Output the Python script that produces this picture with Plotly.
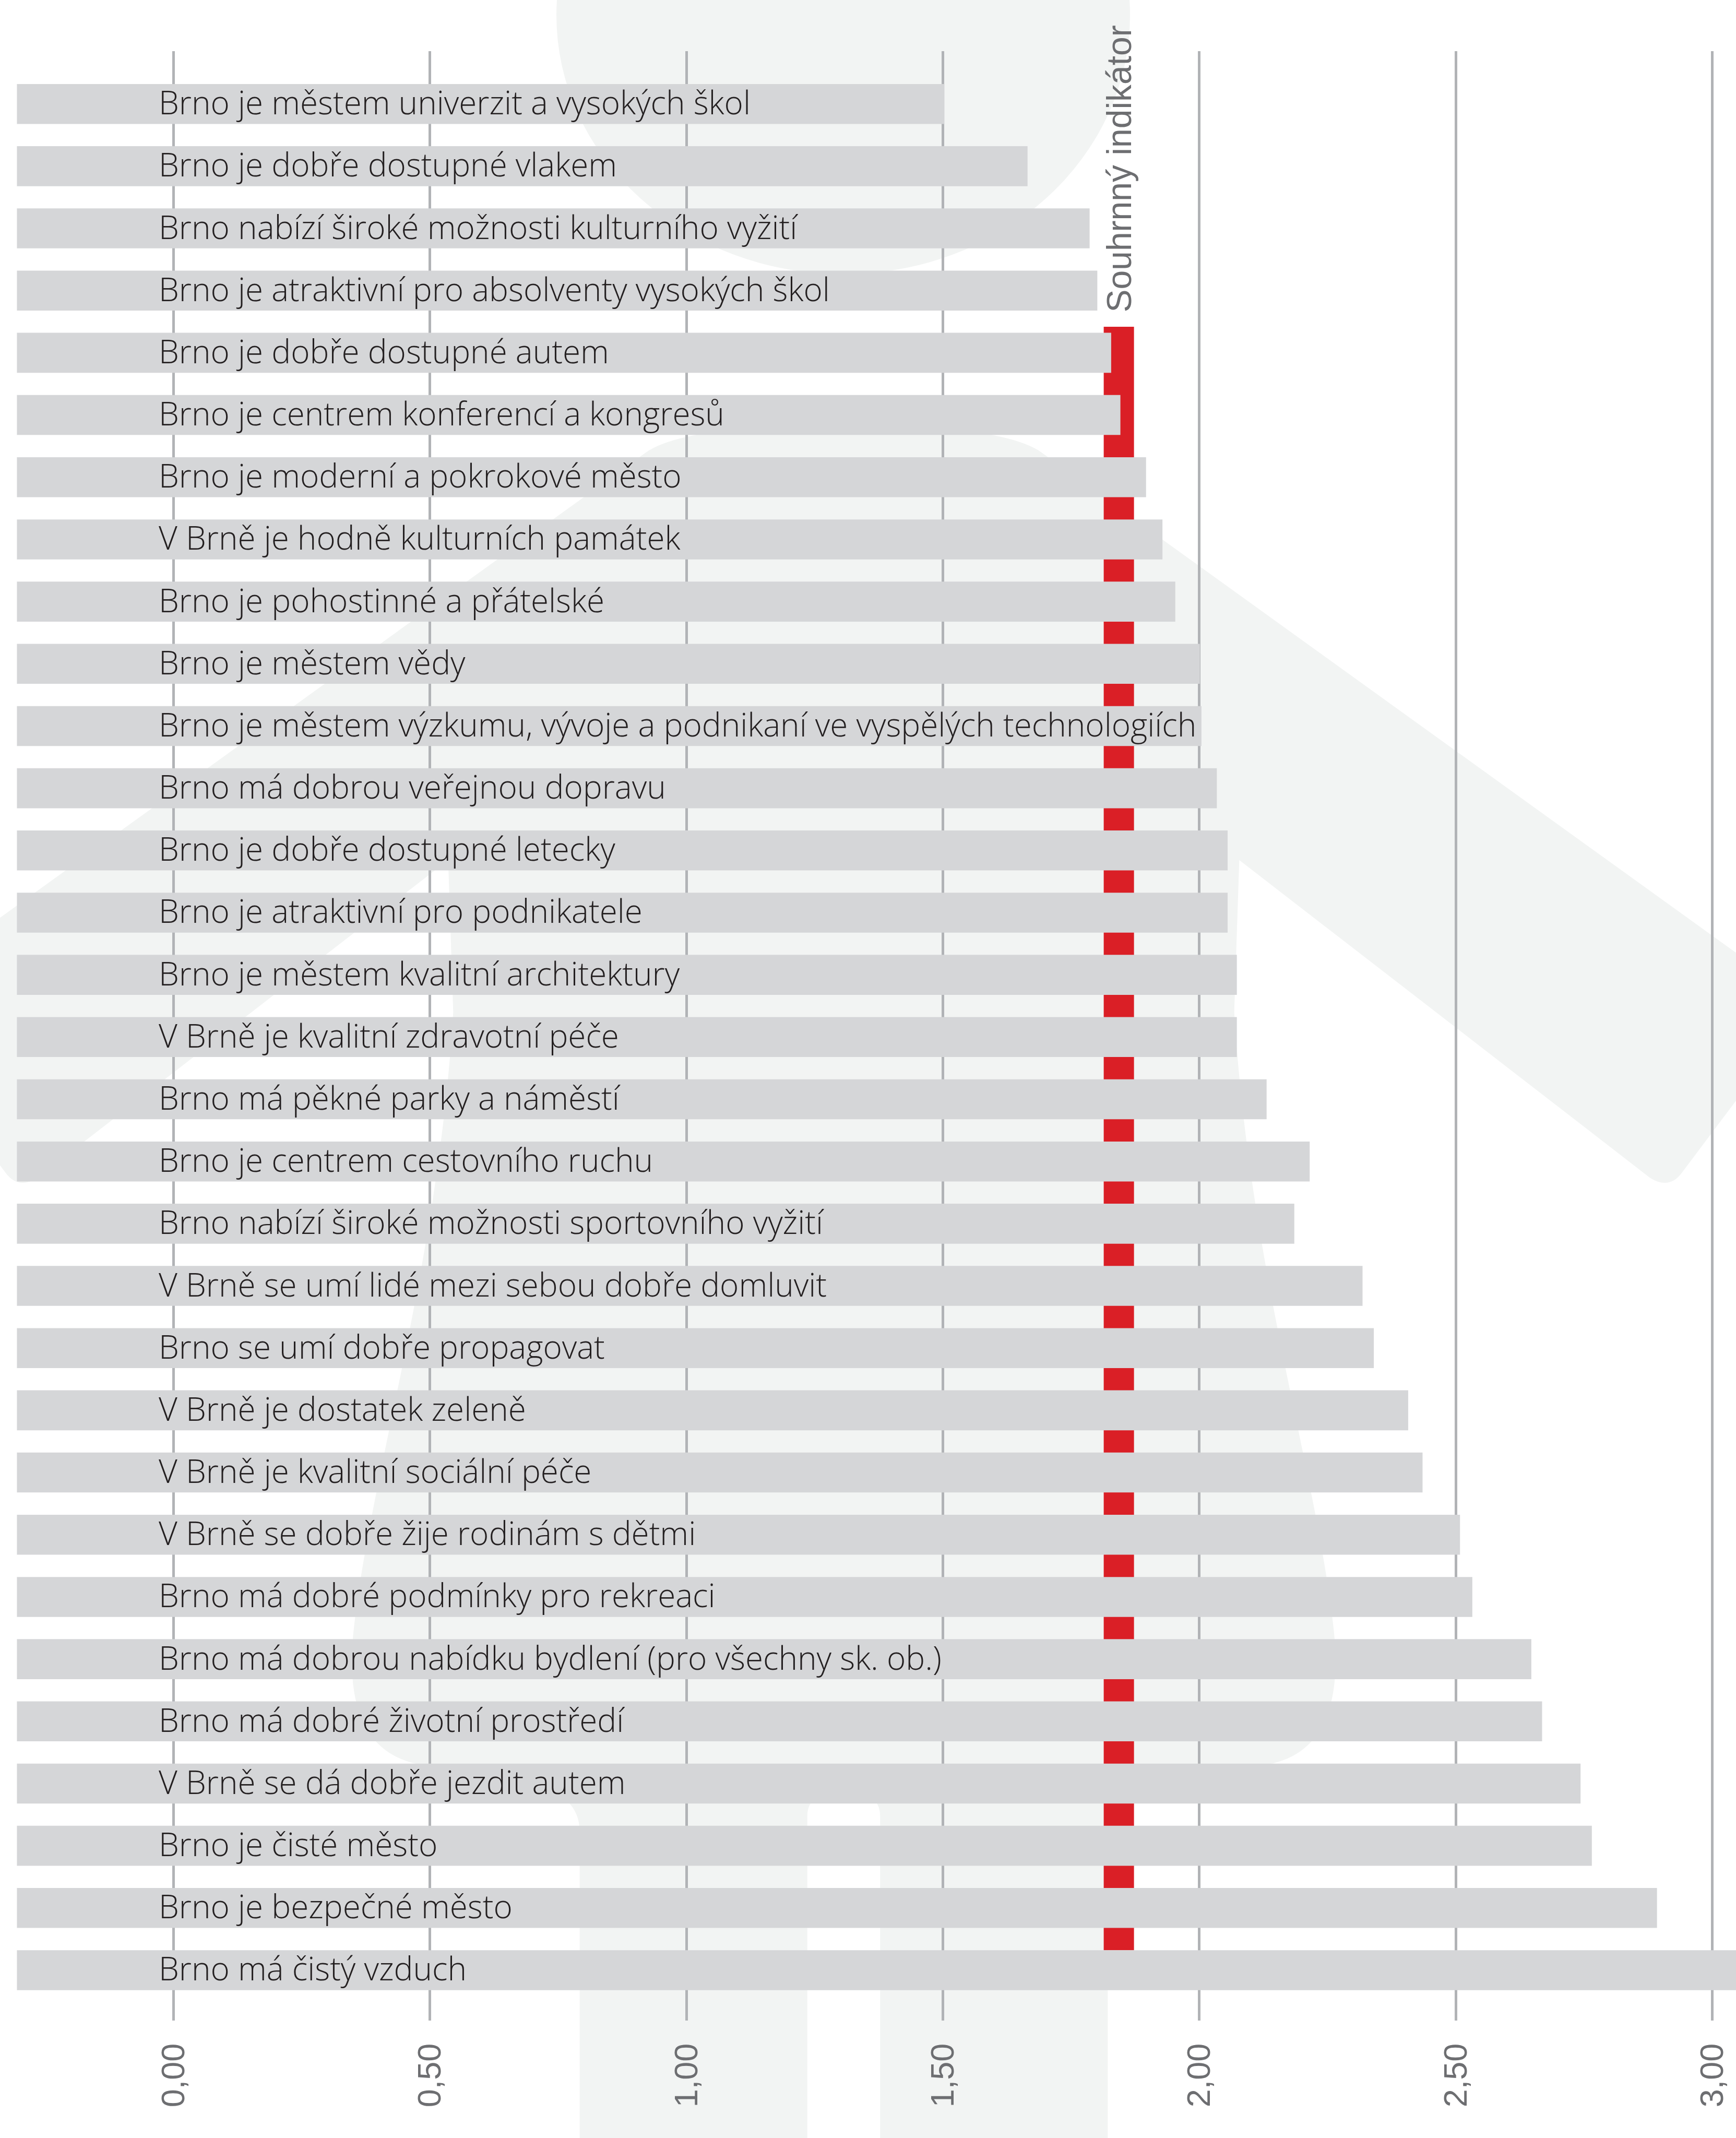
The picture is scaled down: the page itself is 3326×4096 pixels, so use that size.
import plotly.graph_objects as go

# ---------------- data ----------------
categories = [
    "Brno je městem univerzit a vysokých škol",
    "Brno je dobře dostupné vlakem",
    "Brno nabízí široké možnosti kulturního vyžití",
    "Brno je atraktivní pro absolventy vysokých škol",
    "Brno je dobře dostupné autem",
    "Brno je centrem konferencí a kongresů",
    "Brno je moderní a pokrokové město",
    "V Brně je hodně kulturních památek",
    "Brno je pohostinné a přátelské",
    "Brno je městem vědy",
    "Brno je městem výzkumu, vývoje a podnikaní ve vyspělých technologiích",
    "Brno má dobrou veřejnou dopravu",
    "Brno je dobře dostupné letecky",
    "Brno je atraktivní pro podnikatele",
    "Brno je městem kvalitní architektury",
    "V Brně je kvalitní zdravotní péče",
    "Brno má pěkné parky a náměstí",
    "Brno je centrem cestovního ruchu",
    "Brno nabízí široké možnosti sportovního vyžití",
    "V Brně se umí lidé mezi sebou dobře domluvit",
    "Brno se umí dobře propagovat",
    "V Brně je dostatek zeleně",
    "V Brně je kvalitní sociální péče",
    "V Brně se dobře žije rodinám s dětmi",
    "Brno má dobré podmínky pro rekreaci",
    "Brno má dobrou nabídku bydlení (pro všechny sk. ob.)",
    "Brno má dobré životní prostředí",
    "V Brně se dá dobře jezdit autem",
    "Brno je čisté město",
    "Brno je bezpečné město",
    "Brno má čistý vzduch",
]
values = [
    1.503, 1.665, 1.786, 1.801, 1.828, 1.846, 1.896, 1.928, 1.953, 2.001,
    2.004, 2.034, 2.055, 2.055, 2.073, 2.073, 2.131, 2.215, 2.185, 2.318,
    2.340, 2.407, 2.435, 2.508, 2.532, 2.647, 2.668, 2.743, 2.765, 2.892,
    3.070,
]
tick_values = [0, 0.5, 1.0, 1.5, 2.0, 2.5, 3.0]
souhrnny_indikator = 1.843
indicator_label = "Souhrnný indikátor"

# ---------------- geometry / style ----------------
W, H = 3326, 4096
REF_W, REF_H = 3432.0, 4226.0
BAR_BASE = -0.305
X_RANGE = [-0.338, 3.046]
Y_RANGE = [30.811, -0.850]
LABEL_X = -0.031

BAR_COLOR = "#d5d6d8"
RED = "#da1f26"
GRID = "#b1b3b6"
BG_SHAPE = "#f2f4f3"
TEXT = "#231f20"
GREY_TEXT = "#6d6e71"

ypos = list(range(len(categories)))

fig = go.Figure()
fig.add_trace(go.Bar(
    y=ypos,
    x=[v - BAR_BASE for v in values],
    base=BAR_BASE,
    orientation="h",
    width=0.6425,
    marker=dict(color=BAR_COLOR, line=dict(width=0)),
    hoverinfo="skip",
))

# ---------------- decorative silhouette (paper coords) ----------------
def px(X):
    return X / REF_W

def py(Y):
    return 1 - Y / REF_H

def path_from(cmds):
    out = []
    for c in cmds:
        op = c[0]
        pts = c[1:]
        coords = []
        for i in range(0, len(pts), 2):
            coords.append(f"{px(pts[i]):.5f},{py(pts[i+1]):.5f}")
        out.append(op + " ".join(coords))
    return " ".join(out) + " Z"

right_half = [
    ("M", 1662, 840),
    ("L", 1668, 840),
    ("Q", 1984, 840, 2060, 895),
    ("L", 3440, 1889),
    ("L", 3440, 2165),
    ("L", 3325, 2318),
    ("Q", 3300, 2352, 3262, 2328),
    ("L", 2450, 1700),
    ("L", 2440, 2000),
    ("C", 2470, 2500, 2600, 2900, 2636, 3215),
    ("C", 2660, 3420, 2580, 3480, 2490, 3490),
    ("C", 2300, 3510, 2190, 3530, 2190, 3620),
    ("L", 2190, 4240),
    ("L", 1740, 4240),
    ("L", 1740, 3590),
    ("Q", 1740, 3540, 1668, 3540),
    ("L", 1662, 3540),
]
CX2 = 3336  # twice the mirror axis
left_half = []
for c in right_half:
    pts = list(c[1:])
    for i in range(0, len(pts), 2):
        pts[i] = CX2 - pts[i]
    left_half.append((c[0], *pts))

shapes = []
for half in (right_half, left_half):
    shapes.append(dict(type="path", xref="paper", yref="paper", layer="below",
                       path=path_from(half), fillcolor=BG_SHAPE,
                       line=dict(width=0)))
# head
shapes.append(dict(type="circle", xref="paper", yref="paper", layer="below",
                   x0=px(1100), x1=px(2234), y0=py(-482), y1=py(542),
                   fillcolor=BG_SHAPE, line=dict(width=0)))

# red summary indicator strip (behind bars)
shapes.append(dict(type="rect", xref="x", yref="y", layer="between",
                   x0=souhrnny_indikator - 0.0295, x1=souhrnny_indikator + 0.0295,
                   y0=3.582, y1=29.679, fillcolor=RED, line=dict(width=0)))

annotations = []
for i, lab in enumerate(categories):
    annotations.append(dict(
        x=LABEL_X, y=i, xref="x", yref="y", text=lab, showarrow=False,
        xanchor="left", yanchor="middle", yshift=4,
        font=dict(family="Open Sans", size=62, color=TEXT, weight=300),
    ))
annotations.append(dict(
    x=souhrnny_indikator, y=3.371, xref="x", yref="y", text=indicator_label,
    showarrow=False, textangle=-90, xanchor="center", yanchor="bottom",
    font=dict(family="Liberation Sans", size=66, color=GREY_TEXT),
))

fig.update_layout(
    width=W, height=H,
    margin=dict(l=0, r=0, t=0, b=0, pad=0),
    paper_bgcolor="white",
    plot_bgcolor="rgba(0,0,0,0)",
    showlegend=False,
    separators=", ",
    shapes=shapes,
    annotations=annotations,
    xaxis=dict(
        domain=[0, 1], range=X_RANGE, tickvals=tick_values, tickformat=".2f",
        tickangle=-90, ticks="", ticklabelstandoff=30,
        tickfont=dict(family="Liberation Sans", size=63, color=GREY_TEXT),
        showgrid=True, gridcolor=GRID, gridwidth=4.8,
        zeroline=False, showline=False, automargin=False, fixedrange=True,
    ),
    yaxis=dict(
        domain=[1 - 3994 / REF_H, 1 - 101 / REF_H], range=Y_RANGE,
        showticklabels=False, showgrid=False, zeroline=False,
        showline=False, automargin=False, fixedrange=True,
    ),
)

fig.write_html(
    "out.html",
    config={"displayModeBar": False},
    post_script="document.body.style.margin='0';document.body.style.overflow='hidden';",
)
